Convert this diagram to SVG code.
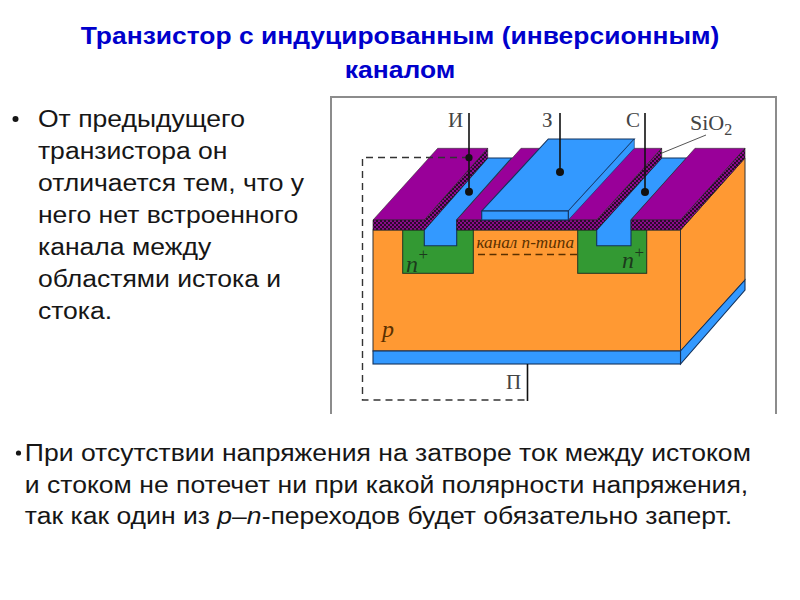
<svg xmlns="http://www.w3.org/2000/svg" width="800" height="600" viewBox="0 0 800 600">
<style>
.t{font-family:"Liberation Sans",Arial,sans-serif;font-size:23.5px;fill:#161616}
.h{font-family:"Liberation Sans",Arial,sans-serif;font-size:23.5px;font-weight:bold;fill:#0000cc;text-anchor:middle}
.s{font-family:"Liberation Serif","Times New Roman",serif;fill:#444}
.i{font-family:"Liberation Serif","Times New Roman",serif;font-style:italic;fill:#1c3a1c}
.o{fill:#ff9933;stroke:#333;stroke-width:1}
.b{fill:#3399ff;stroke:#13325c;stroke-width:1.1}
.p{fill:#990099;stroke:#333;stroke-width:.6}
.x{fill:url(#chk);stroke:#222;stroke-width:.6}
.g{fill:#339933;stroke:#223322;stroke-width:1}
.w{fill:none;stroke:#111;stroke-width:1.6}
.d{fill:none;stroke:#333;stroke-width:1.4;stroke-dasharray:7 5}
</style>
<defs>
<pattern id="chk" width="4" height="4" patternUnits="userSpaceOnUse">
<rect width="4" height="4" fill="#8a0a8a"/><rect width="2" height="2" fill="#2a0a2a"/><rect x="2" y="2" width="2" height="2" fill="#2a0a2a"/>
</pattern>
</defs>
<rect width="800" height="600" fill="#fff"/>
<g id="title" transform="scale(1.125 1)"><text class="h" x="355.600" y="44">Транзистор с индуцированным (инверсионным)</text><text class="h" x="355.600" y="78">каналом</text></g>
<g id="left-text">
<circle cx="15.500" cy="119" r="3" fill="#161616"/>
<g transform="scale(1.13 1)">
<text class="t" x="33.600" y="127.500">От предыдущего</text>
<text class="t" x="33.600" y="159.500">транзистора он</text>
<text class="t" x="33.600" y="191.500">отличается тем, что у</text>
<text class="t" x="33.600" y="223.500">него нет встроенного</text>
<text class="t" x="33.600" y="255.500">канала между</text>
<text class="t" x="33.600" y="287.500">областями истока и</text>
<text class="t" x="33.600" y="319.500">стока.</text>
</g>
</g>
<g id="bottom-text">
<circle cx="18.500" cy="453" r="2.600" fill="#161616"/>
<g transform="scale(1.13 1)">
<text class="t" x="22" y="461">При отсутствии напряжения на затворе ток между истоком</text>
<text class="t" x="22" y="493">и стоком не потечет ни при какой полярности напряжения,</text>
<text class="t" x="22" y="524">так как один из <tspan font-style="italic">р</tspan>–<tspan font-style="italic">n</tspan>-переходов будет обязательно заперт.</text>
</g>
</g>
<g id="frame"><path d="M331 414V97H776V414" fill="none" stroke="#8c8c8c" stroke-width="2"/></g>
<g id="substrate">
<path class="o" d="M680.500 230L745 158V280L680.500 351Z"/>
<path class="b" d="M680.500 351L745 280V290L680.500 364Z"/>
<rect class="o" x="373" y="230" width="307.500" height="121"/>
<rect class="b" x="373" y="351" width="307.500" height="13"/>
</g>
<g id="source-region"><rect class="g" x="402.700" y="230" width="70.600" height="43.300"/></g>
<g id="drain-region"><rect class="g" x="577.700" y="230" width="69" height="43.300"/></g>
<g id="source-contact"><path class="b" d="M424.300 230L487.700 158H511.700L456.700 220V245.700H424.300Z"/></g>
<g id="drain-contact"><path class="b" d="M596.700 230L661.700 158H686.700L631 220V245.700H596.700Z"/></g>
<g id="oxide-left">
<path class="p" d="M373 220L437.700 148.300H487.700L424.300 220Z"/>
<path class="x" d="M373 220H424.300L487.700 148.300V158L424.300 230H373Z"/>
</g>
<g id="oxide-mid">
<path class="p" d="M456.700 220L521 148.300H661.700L596.700 220Z"/>
<path class="x" d="M456.700 220H596.700L661.700 148.300V158L596.700 230H456.700Z"/>
</g>
<g id="oxide-right">
<path class="p" d="M631 220L695 148.300H745L680.500 220Z"/>
<path class="x" d="M631 220H680.500L745 148.300V158L680.500 230H631Z"/>
</g>
<g id="gate">
<path class="b" d="M481.700 211L548.300 139H634.300L568.300 211Z"/>
<path class="b" d="M568.300 211L634.300 139V148.300L568.300 220Z" style="stroke-width:.6"/>
<rect class="b" x="481.700" y="211" width="86.600" height="9"/>
</g>
<g id="connectors">
<path class="d" d="M469 157.500H362.500V400H527.500"/>
<path d="M478 254.500H577" fill="none" stroke="#5a3000" stroke-width="1.600" stroke-dasharray="7 4.500"/>
<path class="w" d="M469 113V192M560 113V172M645 113V192M527.500 364V401"/>
<circle cx="469" cy="157.700" r="3.600" fill="#111"/>
<circle cx="469" cy="191.700" r="4" fill="#111"/>
<circle cx="560" cy="172" r="4" fill="#111"/>
<circle cx="645" cy="192" r="4" fill="#111"/>
<path d="M662 153L706 135" fill="none" stroke="#555" stroke-width="1"/>
</g>
<g id="labels">
<text class="s" x="448" y="127" font-size="21">И</text>
<text class="s" x="542" y="127" font-size="21">З</text>
<text class="s" x="626" y="127" font-size="21">С</text>
<text class="s" x="690" y="130" font-size="22">SiO<tspan font-size="16" dy="5">2</tspan></text>
<text class="s" x="506" y="389" font-size="21">П</text>
<text class="i" x="476.500" y="248" font-size="17" textLength="97.500" lengthAdjust="spacingAndGlyphs" style="fill:#5a3000">канал n-типа</text>
<text class="i" x="406" y="271.500" font-size="24">n</text><text class="s" x="418.500" y="260" font-size="17" style="fill:#1c3a1c">+</text>
<text class="i" x="622" y="268" font-size="24">n</text><text class="s" x="634.500" y="257.500" font-size="17" style="fill:#1c3a1c">+</text>
<text class="i" x="382" y="337" font-size="24" style="fill:#5a3000">p</text>
</g>
</svg>
